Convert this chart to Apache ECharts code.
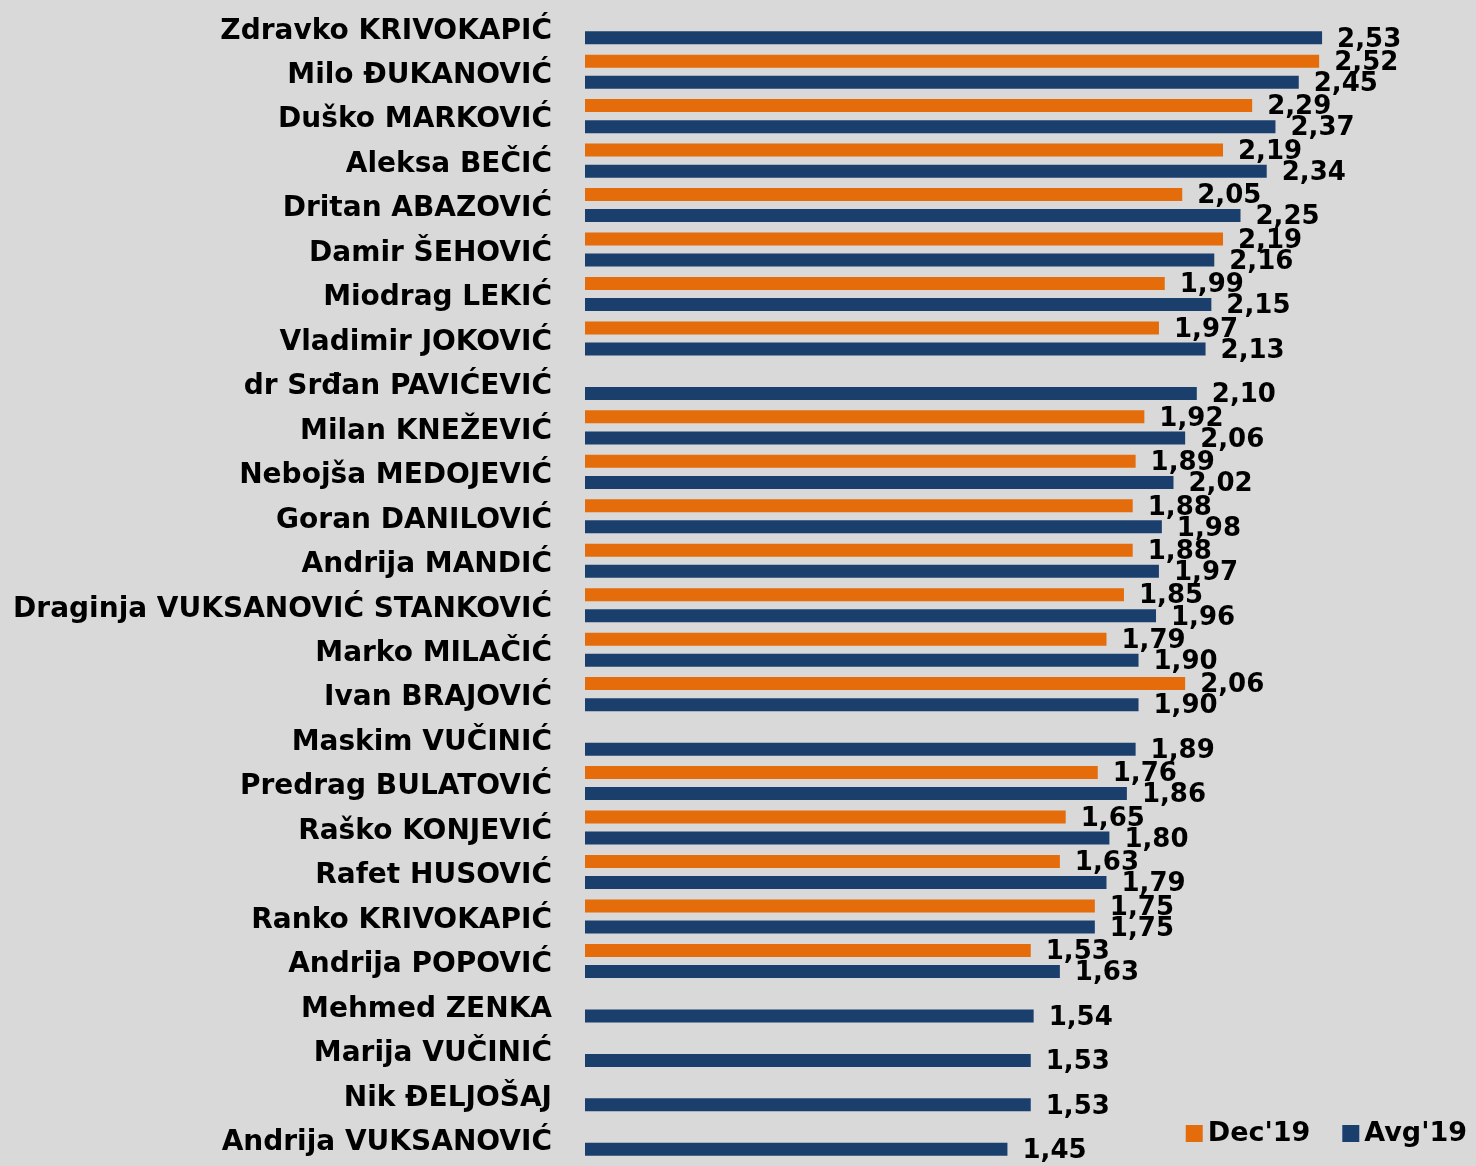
<!DOCTYPE html>
<html>
<head>
<meta charset="utf-8">
<script src="https://cdn.jsdelivr.net/npm/echarts@6/dist/echarts.min.js"></script>
<style>
  html, body { margin: 0; padding: 0; background: #d9d9d9; }
  #chart { width: 1476px; height: 1166px; }
</style>
</head>
<body>
<div id="chart"></div>
<script>
// names, top to bottom
var names = [
  'Zdravko KRIVOKAPIĆ', 'Milo ĐUKANOVIĆ', 'Duško MARKOVIĆ', 'Aleksa BEČIĆ',
  'Dritan ABAZOVIĆ', 'Damir ŠEHOVIĆ', 'Miodrag LEKIĆ', 'Vladimir JOKOVIĆ',
  'dr Srđan PAVIĆEVIĆ', 'Milan KNEŽEVIĆ', 'Nebojša MEDOJEVIĆ', 'Goran DANILOVIĆ',
  'Andrija MANDIĆ', 'Draginja VUKSANOVIĆ STANKOVIĆ', 'Marko MILAČIĆ', 'Ivan BRAJOVIĆ',
  'Maskim VUČINIĆ', 'Predrag BULATOVIĆ', 'Raško KONJEVIĆ', 'Rafet HUSOVIĆ',
  'Ranko KRIVOKAPIĆ', 'Andrija POPOVIĆ', 'Mehmed ZENKA', 'Marija VUČINIĆ',
  'Nik ĐELJOŠAJ', 'Andrija VUKSANOVIĆ'
]
var dec19 = [
  '-', 2.52, 2.29, 2.19, 2.05, 2.19, 1.99, 1.97,
  '-', 1.92, 1.89, 1.88, 1.88, 1.85, 1.79, 2.06,
  '-', 1.76, 1.65, 1.63, 1.75, 1.53, '-', '-',
  '-', '-'
]
var avg19 = [
  2.53, 2.45, 2.37, 2.34, 2.25, 2.16, 2.15, 2.13,
  2.10, 2.06, 2.02, 1.98, 1.97, 1.96, 1.90, 1.90,
  1.89, 1.86, 1.80, 1.79, 1.75, 1.63, 1.54, 1.53,
  1.53, 1.45
]

var FONT = 'DejaVu Sans'

function fmt(p) {
  if (typeof p.value !== 'number') return ''
  return p.value.toFixed(2).replace('.', ',')
}

var valueLabel = {
  show: true,
  position: 'right',
  distance: 15,
  offset: [0, 2],
  formatter: fmt,
  color: '#000',
  fontFamily: FONT,
  fontWeight: 'bold',
  fontSize: 26
}

var chart = echarts.init(document.getElementById('chart'))
chart.setOption({
  backgroundColor: '#d9d9d9',
  animation: false,
  grid: { left: 585, right: 17, top: 5, bottom: 5 },
  legend: {
    right: 4,
    bottom: 14,
    icon: 'rect',
    itemWidth: 17,
    itemHeight: 17,
    itemGap: 32,
    textStyle: { fontFamily: FONT, fontWeight: 'bold', fontSize: 27, color: '#000' },
    data: ["Dec'19", "Avg'19"]
  },
  xAxis: {
    type: 'value',
    min: 0,
    max: 3,
    show: false
  },
  yAxis: {
    type: 'category',
    inverse: true,
    data: names,
    axisLine: { show: false },
    axisTick: { show: false },
    axisLabel: {
      margin: 33,
      formatter: function (v) { return '{n|' + v + '}' },
      rich: {
        n: {
          padding: [8, 0, 0, 0],
          color: '#000',
          fontFamily: FONT,
          fontWeight: 'bold',
          fontSize: 28
        }
      }
    }
  },
  series: [
    {
      name: "Dec'19",
      type: 'bar',
      data: dec19,
      barWidth: 13,
      barGap: '62%',
      itemStyle: { color: '#e46c0a' },
      label: valueLabel
    },
    {
      name: "Avg'19",
      type: 'bar',
      data: avg19,
      barWidth: 13,
      itemStyle: { color: '#1b3f6c' },
      label: valueLabel
    }
  ]
})
</script>
</body>
</html>
